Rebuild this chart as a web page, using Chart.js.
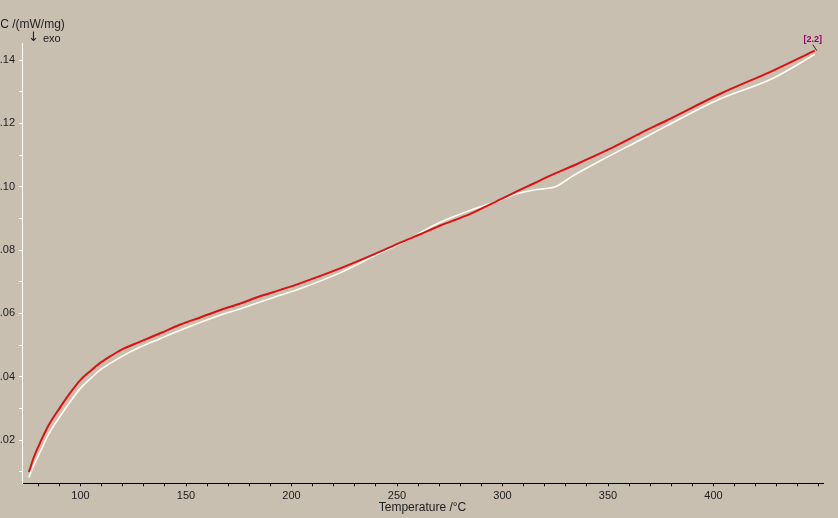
<!DOCTYPE html>
<html>
<head>
<meta charset="utf-8">
<script src="https://cdn.jsdelivr.net/npm/chart.js@4.4.0/dist/chart.umd.min.js"></script>
<style>
  html, body { margin: 0; padding: 0; background: #c8bfb1; overflow: hidden; }
  #wrap { position: relative; width: 838px; height: 518px; }
</style>
</head>
<body>
<div id="wrap"><canvas id="dsc" width="838" height="518"></canvas></div>
<script>
// ── Data ──────────────────────────────────────────────────────────────────────
const temps = [75.5, 78, 81, 85, 90, 95, 100, 105, 109, 114, 119, 128, 138, 147, 157, 166, 176, 185, 195, 204,
  223, 242, 251, 261, 270, 285, 299, 307, 315, 320, 325, 334, 350, 365, 378, 403, 428, 448];

const dscRed = [0.0099, 0.0148, 0.0194, 0.0248, 0.0300, 0.0348, 0.0390, 0.0420, 0.0442, 0.0464, 0.0484, 0.0510,
  0.0538, 0.0564, 0.0588, 0.0610, 0.0632, 0.0654, 0.0675, 0.0695, 0.0742, 0.0795, 0.0822, 0.0850, 0.0876, 0.0915,
  0.0960, 0.0986, 0.1011, 0.1027, 0.1042, 0.1068, 0.1117, 0.1168, 0.1210, 0.1293, 0.1366, 0.1430];

const dscWhite = [0.0082, 0.0122, 0.0164, 0.0220, 0.0272, 0.0320, 0.0364, 0.0396, 0.0420, 0.0442, 0.0462, 0.0493,
  0.0521, 0.0546, 0.0572, 0.0594, 0.0615, 0.0636, 0.0658, 0.0678, 0.0728, 0.0791, 0.0818, 0.0855, 0.0886, 0.0926,
  0.0958, 0.0978, 0.0990, 0.0994, 0.1000, 0.1037, 0.1095, 0.1147, 0.1193, 0.1277, 0.1342, 0.1418];

const xTicks = [80, 90, 100, 110, 120, 130, 140, 150, 160, 170, 180, 190, 200, 210, 220, 230, 240, 250, 260, 270,
  280, 290, 300, 310, 320, 330, 340, 350, 360, 370, 380, 390, 400, 410, 420, 430, 440, 450];
const xLabels = [100, 150, 200, 250, 300, 350, 400];
const yTicks = [0.01, 0.02, 0.03, 0.04, 0.05, 0.06, 0.07, 0.08, 0.09, 0.10, 0.11, 0.12, 0.13, 0.14];
const yLabels = [0.02, 0.04, 0.06, 0.08, 0.10, 0.12, 0.14];
const segLabel = '[2.2]';

// ── Helpers ───────────────────────────────────────────────────────────────────
const FONT = "'Liberation Sans', Arial, sans-serif";
const pts = (vals) => temps.map((t, i) => ({ x: t, y: vals[i] }));
const hasLabel = (list, v) => list.some(l => Math.abs(l - v) < 1e-6);

// ── Annotation texts (axis titles, exo hint, segment label) ──────────────────
const annotations = {
  id: 'annotations',
  afterDraw(chart) {
    const { ctx, chartArea, scales } = chart;
    ctx.save();
    ctx.fillStyle = '#222';
    ctx.textBaseline = 'middle';
    ctx.font = `12px ${FONT}`;
    ctx.textAlign = 'left';
    ctx.fillText('DSC /(mW/mg)', -16.5, 25);
    ctx.font = `13px 'DejaVu Sans', ${FONT}`;
    ctx.fillText('\u2193', 28, 38);
    ctx.font = `11px ${FONT}`;
    ctx.fillText('exo', 43, 39);
    ctx.font = `12px ${FONT}`;
    ctx.textAlign = 'center';
    ctx.fillText('Temperature /\u00B0C', (chartArea.left + chartArea.right) / 2, 508);

    // segment label at the end of the red curve
    const n = temps.length - 1;
    const px = scales.x.getPixelForValue(temps[n]);
    const py = scales.y.getPixelForValue(dscRed[n]);
    ctx.fillStyle = '#990066';
    ctx.font = `bold 9px ${FONT}`;
    ctx.fillText(segLabel, px - 2, py - 11);
    ctx.strokeStyle = '#4a1838';
    ctx.lineWidth = 1;
    ctx.beginPath();
    ctx.moveTo(px - 2, py - 6);
    ctx.lineTo(px + 2, py);
    ctx.stroke();
    ctx.restore();
  },
};

// ── Chart ─────────────────────────────────────────────────────────────────────
new Chart(document.getElementById('dsc').getContext('2d'), {
  type: 'line',
  data: {
    datasets: [{
      data: pts(dscRed),
      borderColor: '#e01010',
      borderWidth: 2,
      pointRadius: 0,
      cubicInterpolationMode: 'monotone',
      order: 0,
    }, {
      data: pts(dscWhite),
      borderColor: '#fffdf2',
      borderWidth: 1.6,
      pointRadius: 0,
      cubicInterpolationMode: 'monotone',
      order: 1,
    }],
  },
  options: {
    responsive: false,
    animation: false,
    layout: { padding: { left: 0, right: 15, top: 43, bottom: 0 } },
    plugins: { legend: { display: false }, tooltip: { enabled: false } },
    scales: {
      x: {
        type: 'linear',
        min: 72.26,
        max: 451.9,
        afterBuildTicks: (s) => { s.ticks = xTicks.map(v => ({ value: v })); },
        afterFit: (s) => { s.height = 34.7; },
        ticks: {
          autoSkip: false,
          maxRotation: 0,
          padding: 3,
          color: '#222',
          font: { family: FONT, size: 11 },
          callback: (v) => (hasLabel(xLabels, v) ? String(v) : ''),
        },
        grid: { drawOnChartArea: false, drawTicks: true, tickLength: 3, color: '#000' },
        border: { color: '#000', width: 1 },
      },
      y: {
        min: 0.00634,
        max: 0.1454,
        afterBuildTicks: (s) => { s.ticks = yTicks.map(v => ({ value: v })); },
        afterFit: (s) => { s.width = 22; },
        ticks: {
          autoSkip: false,
          padding: 4,
          color: '#222',
          font: { family: FONT, size: 11 },
          callback: (v) => (hasLabel(yLabels, v) ? v.toFixed(2) : ''),
        },
        grid: { drawOnChartArea: false, drawTicks: true, tickLength: 3, color: '#fff' },
        border: { color: '#fff', width: 1 },
      },
    },
  },
  plugins: [annotations],
});
</script>
</body>
</html>
